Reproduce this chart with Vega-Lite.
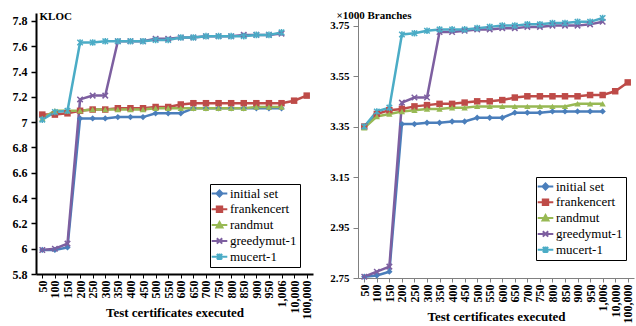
{
  "$schema": "https://vega.github.io/schema/vega-lite/v6.json",
  "padding": {"left": 12, "top": 9, "right": 2, "bottom": 0},
  "spacing": 16,
  "config": {
    "font": "Liberation Serif",
    "view": {"stroke": null},
    "axis": {"labelFont": "Liberation Serif", "labelFontWeight": "bold", "labelFontSize": 12, "labelColor": "black", "titleFont": "Liberation Serif", "titleFontWeight": "bold", "titleColor": "black", "grid": false, "tickColor": "black", "domainColor": "black"}
  },
  "resolve": {"scale": {"color": "independent"}, "legend": {"color": "independent"}},
  "datasets": {
    "kloc": [
      {"s": "initial set", "t": "50", "v": 5.99}, {"s": "initial set", "t": "100", "v": 5.99}, {"s": "initial set", "t": "150", "v": 6.01}, {"s": "initial set", "t": "200", "v": 7.03}, {"s": "initial set", "t": "250", "v": 7.03}, {"s": "initial set", "t": "300", "v": 7.03}, {"s": "initial set", "t": "350", "v": 7.04}, {"s": "initial set", "t": "400", "v": 7.04}, {"s": "initial set", "t": "450", "v": 7.04}, {"s": "initial set", "t": "500", "v": 7.07}, {"s": "initial set", "t": "550", "v": 7.07}, {"s": "initial set", "t": "600", "v": 7.07}, {"s": "initial set", "t": "650", "v": 7.11}, {"s": "initial set", "t": "700", "v": 7.11}, {"s": "initial set", "t": "750", "v": 7.11}, {"s": "initial set", "t": "800", "v": 7.11}, {"s": "initial set", "t": "850", "v": 7.11}, {"s": "initial set", "t": "900", "v": 7.11}, {"s": "initial set", "t": "950", "v": 7.11}, {"s": "initial set", "t": "1,006", "v": 7.11},
      {"s": "frankencert", "t": "50", "v": 7.06}, {"s": "frankencert", "t": "100", "v": 7.06}, {"s": "frankencert", "t": "150", "v": 7.07}, {"s": "frankencert", "t": "200", "v": 7.09}, {"s": "frankencert", "t": "250", "v": 7.10}, {"s": "frankencert", "t": "300", "v": 7.10}, {"s": "frankencert", "t": "350", "v": 7.11}, {"s": "frankencert", "t": "400", "v": 7.11}, {"s": "frankencert", "t": "450", "v": 7.11}, {"s": "frankencert", "t": "500", "v": 7.12}, {"s": "frankencert", "t": "550", "v": 7.12}, {"s": "frankencert", "t": "600", "v": 7.14}, {"s": "frankencert", "t": "650", "v": 7.15}, {"s": "frankencert", "t": "700", "v": 7.15}, {"s": "frankencert", "t": "750", "v": 7.15}, {"s": "frankencert", "t": "800", "v": 7.15}, {"s": "frankencert", "t": "850", "v": 7.15}, {"s": "frankencert", "t": "900", "v": 7.15}, {"s": "frankencert", "t": "950", "v": 7.15}, {"s": "frankencert", "t": "1,006", "v": 7.15}, {"s": "frankencert", "t": "10,000", "v": 7.17}, {"s": "frankencert", "t": "100,000", "v": 7.21},
      {"s": "randmut", "t": "50", "v": 7.03}, {"s": "randmut", "t": "100", "v": 7.09}, {"s": "randmut", "t": "150", "v": 7.09}, {"s": "randmut", "t": "200", "v": 7.09}, {"s": "randmut", "t": "250", "v": 7.10}, {"s": "randmut", "t": "300", "v": 7.10}, {"s": "randmut", "t": "350", "v": 7.10}, {"s": "randmut", "t": "400", "v": 7.10}, {"s": "randmut", "t": "450", "v": 7.10}, {"s": "randmut", "t": "500", "v": 7.11}, {"s": "randmut", "t": "550", "v": 7.11}, {"s": "randmut", "t": "600", "v": 7.11}, {"s": "randmut", "t": "650", "v": 7.11}, {"s": "randmut", "t": "700", "v": 7.11}, {"s": "randmut", "t": "750", "v": 7.11}, {"s": "randmut", "t": "800", "v": 7.11}, {"s": "randmut", "t": "850", "v": 7.11}, {"s": "randmut", "t": "900", "v": 7.12}, {"s": "randmut", "t": "950", "v": 7.12}, {"s": "randmut", "t": "1,006", "v": 7.12},
      {"s": "greedymut-1", "t": "50", "v": 5.99}, {"s": "greedymut-1", "t": "100", "v": 6.00}, {"s": "greedymut-1", "t": "150", "v": 6.04}, {"s": "greedymut-1", "t": "200", "v": 7.18}, {"s": "greedymut-1", "t": "250", "v": 7.21}, {"s": "greedymut-1", "t": "300", "v": 7.21}, {"s": "greedymut-1", "t": "350", "v": 7.64}, {"s": "greedymut-1", "t": "400", "v": 7.64}, {"s": "greedymut-1", "t": "450", "v": 7.64}, {"s": "greedymut-1", "t": "500", "v": 7.66}, {"s": "greedymut-1", "t": "550", "v": 7.66}, {"s": "greedymut-1", "t": "600", "v": 7.67}, {"s": "greedymut-1", "t": "650", "v": 7.67}, {"s": "greedymut-1", "t": "700", "v": 7.68}, {"s": "greedymut-1", "t": "750", "v": 7.68}, {"s": "greedymut-1", "t": "800", "v": 7.68}, {"s": "greedymut-1", "t": "850", "v": 7.69}, {"s": "greedymut-1", "t": "900", "v": 7.69}, {"s": "greedymut-1", "t": "950", "v": 7.69}, {"s": "greedymut-1", "t": "1,006", "v": 7.70},
      {"s": "mucert-1", "t": "50", "v": 7.02}, {"s": "mucert-1", "t": "100", "v": 7.08}, {"s": "mucert-1", "t": "150", "v": 7.09}, {"s": "mucert-1", "t": "200", "v": 7.63}, {"s": "mucert-1", "t": "250", "v": 7.63}, {"s": "mucert-1", "t": "300", "v": 7.64}, {"s": "mucert-1", "t": "350", "v": 7.64}, {"s": "mucert-1", "t": "400", "v": 7.64}, {"s": "mucert-1", "t": "450", "v": 7.64}, {"s": "mucert-1", "t": "500", "v": 7.65}, {"s": "mucert-1", "t": "550", "v": 7.65}, {"s": "mucert-1", "t": "600", "v": 7.67}, {"s": "mucert-1", "t": "650", "v": 7.67}, {"s": "mucert-1", "t": "700", "v": 7.68}, {"s": "mucert-1", "t": "750", "v": 7.68}, {"s": "mucert-1", "t": "800", "v": 7.68}, {"s": "mucert-1", "t": "850", "v": 7.68}, {"s": "mucert-1", "t": "900", "v": 7.69}, {"s": "mucert-1", "t": "950", "v": 7.69}, {"s": "mucert-1", "t": "1,006", "v": 7.71}
    ],
    "branches": [
      {"s": "initial set", "t": "50", "v": 2.755}, {"s": "initial set", "t": "100", "v": 2.76}, {"s": "initial set", "t": "150", "v": 2.775}, {"s": "initial set", "t": "200", "v": 3.36}, {"s": "initial set", "t": "250", "v": 3.36}, {"s": "initial set", "t": "300", "v": 3.365}, {"s": "initial set", "t": "350", "v": 3.365}, {"s": "initial set", "t": "400", "v": 3.37}, {"s": "initial set", "t": "450", "v": 3.37}, {"s": "initial set", "t": "500", "v": 3.385}, {"s": "initial set", "t": "550", "v": 3.385}, {"s": "initial set", "t": "600", "v": 3.385}, {"s": "initial set", "t": "650", "v": 3.405}, {"s": "initial set", "t": "700", "v": 3.405}, {"s": "initial set", "t": "750", "v": 3.405}, {"s": "initial set", "t": "800", "v": 3.41}, {"s": "initial set", "t": "850", "v": 3.41}, {"s": "initial set", "t": "900", "v": 3.41}, {"s": "initial set", "t": "950", "v": 3.41}, {"s": "initial set", "t": "1,006", "v": 3.41},
      {"s": "frankencert", "t": "50", "v": 3.35}, {"s": "frankencert", "t": "100", "v": 3.40}, {"s": "frankencert", "t": "150", "v": 3.415}, {"s": "frankencert", "t": "200", "v": 3.42}, {"s": "frankencert", "t": "250", "v": 3.43}, {"s": "frankencert", "t": "300", "v": 3.435}, {"s": "frankencert", "t": "350", "v": 3.44}, {"s": "frankencert", "t": "400", "v": 3.44}, {"s": "frankencert", "t": "450", "v": 3.445}, {"s": "frankencert", "t": "500", "v": 3.45}, {"s": "frankencert", "t": "550", "v": 3.45}, {"s": "frankencert", "t": "600", "v": 3.455}, {"s": "frankencert", "t": "650", "v": 3.465}, {"s": "frankencert", "t": "700", "v": 3.47}, {"s": "frankencert", "t": "750", "v": 3.47}, {"s": "frankencert", "t": "800", "v": 3.47}, {"s": "frankencert", "t": "850", "v": 3.47}, {"s": "frankencert", "t": "900", "v": 3.47}, {"s": "frankencert", "t": "950", "v": 3.475}, {"s": "frankencert", "t": "1,006", "v": 3.475}, {"s": "frankencert", "t": "10,000", "v": 3.49}, {"s": "frankencert", "t": "100,000", "v": 3.525},
      {"s": "randmut", "t": "50", "v": 3.345}, {"s": "randmut", "t": "100", "v": 3.39}, {"s": "randmut", "t": "150", "v": 3.40}, {"s": "randmut", "t": "200", "v": 3.41}, {"s": "randmut", "t": "250", "v": 3.415}, {"s": "randmut", "t": "300", "v": 3.42}, {"s": "randmut", "t": "350", "v": 3.42}, {"s": "randmut", "t": "400", "v": 3.425}, {"s": "randmut", "t": "450", "v": 3.425}, {"s": "randmut", "t": "500", "v": 3.43}, {"s": "randmut", "t": "550", "v": 3.43}, {"s": "randmut", "t": "600", "v": 3.43}, {"s": "randmut", "t": "650", "v": 3.43}, {"s": "randmut", "t": "700", "v": 3.43}, {"s": "randmut", "t": "750", "v": 3.43}, {"s": "randmut", "t": "800", "v": 3.43}, {"s": "randmut", "t": "850", "v": 3.43}, {"s": "randmut", "t": "900", "v": 3.44}, {"s": "randmut", "t": "950", "v": 3.44}, {"s": "randmut", "t": "1,006", "v": 3.44},
      {"s": "greedymut-1", "t": "50", "v": 2.755}, {"s": "greedymut-1", "t": "100", "v": 2.775}, {"s": "greedymut-1", "t": "150", "v": 2.795}, {"s": "greedymut-1", "t": "200", "v": 3.445}, {"s": "greedymut-1", "t": "250", "v": 3.465}, {"s": "greedymut-1", "t": "300", "v": 3.465}, {"s": "greedymut-1", "t": "350", "v": 3.725}, {"s": "greedymut-1", "t": "400", "v": 3.725}, {"s": "greedymut-1", "t": "450", "v": 3.73}, {"s": "greedymut-1", "t": "500", "v": 3.735}, {"s": "greedymut-1", "t": "550", "v": 3.735}, {"s": "greedymut-1", "t": "600", "v": 3.74}, {"s": "greedymut-1", "t": "650", "v": 3.74}, {"s": "greedymut-1", "t": "700", "v": 3.745}, {"s": "greedymut-1", "t": "750", "v": 3.745}, {"s": "greedymut-1", "t": "800", "v": 3.75}, {"s": "greedymut-1", "t": "850", "v": 3.75}, {"s": "greedymut-1", "t": "900", "v": 3.75}, {"s": "greedymut-1", "t": "950", "v": 3.755}, {"s": "greedymut-1", "t": "1,006", "v": 3.765},
      {"s": "mucert-1", "t": "50", "v": 3.35}, {"s": "mucert-1", "t": "100", "v": 3.41}, {"s": "mucert-1", "t": "150", "v": 3.425}, {"s": "mucert-1", "t": "200", "v": 3.715}, {"s": "mucert-1", "t": "250", "v": 3.72}, {"s": "mucert-1", "t": "300", "v": 3.73}, {"s": "mucert-1", "t": "350", "v": 3.735}, {"s": "mucert-1", "t": "400", "v": 3.735}, {"s": "mucert-1", "t": "450", "v": 3.735}, {"s": "mucert-1", "t": "500", "v": 3.74}, {"s": "mucert-1", "t": "550", "v": 3.745}, {"s": "mucert-1", "t": "600", "v": 3.75}, {"s": "mucert-1", "t": "650", "v": 3.75}, {"s": "mucert-1", "t": "700", "v": 3.755}, {"s": "mucert-1", "t": "750", "v": 3.755}, {"s": "mucert-1", "t": "800", "v": 3.76}, {"s": "mucert-1", "t": "850", "v": 3.76}, {"s": "mucert-1", "t": "900", "v": 3.765}, {"s": "mucert-1", "t": "950", "v": 3.765}, {"s": "mucert-1", "t": "1,006", "v": 3.78}
    ]
  },
  "hconcat": [
    {
      "width": 277,
      "height": 261,
      "data": {"name": "kloc"},
      "encoding": {
        "x": {"field": "t", "type": "ordinal", "sort": ["50","100","150","200","250","300","350","400","450","500","550","600","650","700","750","800","850","900","950","1,006","10,000","100,000"], "scale": {"type": "point", "padding": 0.5}, "axis": {"title": "Test certificates executed", "labelAngle": -90, "labelFontSize": 12, "tickSize": 4, "labelPadding": 2, "domainWidth": 2, "titleFontSize": 13, "titleY": 38, "titleBaseline": "middle"}},
        "y": {"field": "v", "type": "quantitative", "scale": {"domain": [5.8, 7.863], "nice": false, "zero": false}, "axis": {"title": "KLOC", "titleAngle": 0, "titleAlign": "left", "titleX": 3, "titleY": 3, "titleBaseline": "middle", "titleFontSize": 11, "values": [5.8,6,6.2,6.4,6.6,6.8,7,7.2,7.4,7.6,7.8], "labelExpr": "'' + datum.value", "tickSize": 5, "labelPadding": 4, "domainWidth": 2, "tickWidth": 1.5}}
      },
      "layer": [
        {"mark": {"type": "line", "strokeWidth": 2.5},
         "encoding": {"color": {"field": "s", "type": "nominal", "scale": {"domain": ["initial set","frankencert","randmut","greedymut-1","mucert-1"], "range": ["#4A7EBB","#BE4B48","#98B954","#7D5FA0","#4BACC6"]},
          "legend": {"title": null, "orient": "none", "legendX": 174, "legendY": 171, "strokeColor": "black", "fillColor": "white", "padding": 3, "labelFont": "Liberation Serif", "labelFontSize": 13, "labelColor": "black", "rowPadding": 0.8, "symbolSize": 256, "labelOffset": 4,
            "encode": {"symbols": {"update": {
              "shape": {"signal": "datum.value==='initial set' ? 'M-2.6,0L2.6,0M0,-1L1,0L0,1L-1,0Z' : datum.value==='frankencert' ? 'M-2.6,0L2.6,0M-0.9,-0.9L0.9,-0.9L0.9,0.9L-0.9,0.9Z' : datum.value==='randmut' ? 'M-2.6,0L2.6,0M0,-1L1,0.8L-1,0.8Z' : datum.value==='greedymut-1' ? 'M-2.6,0L2.6,0M-0.9,-0.9L0.9,0.9M-0.9,0.9L0.9,-0.9' : 'M-2.6,0L2.6,0M-0.9,-0.9L0.9,0.9M-0.9,0.9L0.9,-0.9M0,-1.1L0,1.1'"},
              "fill": {"signal": "datum.value==='initial set' ? '#4A7EBB' : datum.value==='frankencert' ? '#BE4B48' : datum.value==='randmut' ? '#98B954' : datum.value==='greedymut-1' ? '#7D5FA0' : '#4BACC6'"},
              "stroke": {"signal": "datum.value==='initial set' ? '#4A7EBB' : datum.value==='frankencert' ? '#BE4B48' : datum.value==='randmut' ? '#98B954' : datum.value==='greedymut-1' ? '#7D5FA0' : '#4BACC6'"},
              "strokeWidth": {"value": 2}, "size": {"value": 36}, "opacity": {"value": 1}}}}}}}},
        {"transform": [{"filter": "datum.s === 'initial set'"}], "mark": {"type": "point", "shape": "diamond", "filled": true, "size": 40, "color": "#4A7EBB", "opacity": 1}},
        {"transform": [{"filter": "datum.s === 'frankencert'"}], "mark": {"type": "point", "shape": "square", "filled": true, "size": 42, "color": "#BE4B48", "opacity": 1}},
        {"transform": [{"filter": "datum.s === 'randmut'"}], "mark": {"type": "point", "shape": "triangle-up", "filled": true, "size": 40, "color": "#98B954", "opacity": 1}},
        {"transform": [{"filter": "datum.s === 'greedymut-1'"}], "mark": {"type": "point", "shape": "M-1,-1L1,1M-1,1L1,-1", "filled": false, "size": 30, "strokeWidth": 1.5, "color": "#7D5FA0", "opacity": 1}},
        {"transform": [{"filter": "datum.s === 'mucert-1'"}], "mark": {"type": "point", "shape": "M-1,-1L1,1M-1,1L1,-1M0,-1.2L0,1.2", "filled": false, "size": 30, "strokeWidth": 1.5, "color": "#4BACC6", "opacity": 1}}
      ]
    },
    {
      "width": 276,
      "height": 265,
      "data": {"name": "branches"},
      "encoding": {
        "x": {"field": "t", "type": "ordinal", "sort": ["50","100","150","200","250","300","350","400","450","500","550","600","650","700","750","800","850","900","950","1,006","10,000","100,000"], "scale": {"type": "point", "padding": 0.5}, "axis": {"title": "Test certificates executed", "labelAngle": -90, "labelFontSize": 12, "tickSize": 4, "labelPadding": 2, "domainColor": "#808080", "tickColor": "#808080", "titleFontSize": 13, "titleY": 38, "titleBaseline": "middle"}},
        "y": {"field": "v", "type": "quantitative", "scale": {"domain": [2.75, 3.8], "nice": false, "zero": false}, "axis": {"title": "×1000 Branches", "titleAngle": 0, "titleAlign": "left", "titleX": -22, "titleY": 2, "titleBaseline": "middle", "titleFontSize": 11, "values": [2.75,2.95,3.15,3.35,3.55,3.75], "format": ".2f", "labelFontSize": 11, "tickSize": 5, "labelPadding": 4, "domainColor": "#808080", "tickColor": "#808080"}}
      },
      "layer": [
        {"mark": {"type": "line", "strokeWidth": 2.5},
         "encoding": {"color": {"field": "s", "type": "nominal", "scale": {"domain": ["initial set","frankencert","randmut","greedymut-1","mucert-1"], "range": ["#4A7EBB","#BE4B48","#98B954","#7D5FA0","#4BACC6"]},
          "legend": {"title": null, "orient": "none", "legendX": 178, "legendY": 164, "strokeColor": "black", "fillColor": "white", "padding": 3, "labelFont": "Liberation Serif", "labelFontSize": 13, "labelColor": "black", "rowPadding": 0.8, "symbolSize": 256, "labelOffset": 4,
            "encode": {"symbols": {"update": {
              "shape": {"signal": "datum.value==='initial set' ? 'M-2.6,0L2.6,0M0,-1L1,0L0,1L-1,0Z' : datum.value==='frankencert' ? 'M-2.6,0L2.6,0M-0.9,-0.9L0.9,-0.9L0.9,0.9L-0.9,0.9Z' : datum.value==='randmut' ? 'M-2.6,0L2.6,0M0,-1L1,0.8L-1,0.8Z' : datum.value==='greedymut-1' ? 'M-2.6,0L2.6,0M-0.9,-0.9L0.9,0.9M-0.9,0.9L0.9,-0.9' : 'M-2.6,0L2.6,0M-0.9,-0.9L0.9,0.9M-0.9,0.9L0.9,-0.9M0,-1.1L0,1.1'"},
              "fill": {"signal": "datum.value==='initial set' ? '#4A7EBB' : datum.value==='frankencert' ? '#BE4B48' : datum.value==='randmut' ? '#98B954' : datum.value==='greedymut-1' ? '#7D5FA0' : '#4BACC6'"},
              "stroke": {"signal": "datum.value==='initial set' ? '#4A7EBB' : datum.value==='frankencert' ? '#BE4B48' : datum.value==='randmut' ? '#98B954' : datum.value==='greedymut-1' ? '#7D5FA0' : '#4BACC6'"},
              "strokeWidth": {"value": 2}, "size": {"value": 36}, "opacity": {"value": 1}}}}}}}},
        {"transform": [{"filter": "datum.s === 'initial set'"}], "mark": {"type": "point", "shape": "diamond", "filled": true, "size": 40, "color": "#4A7EBB", "opacity": 1}},
        {"transform": [{"filter": "datum.s === 'frankencert'"}], "mark": {"type": "point", "shape": "square", "filled": true, "size": 42, "color": "#BE4B48", "opacity": 1}},
        {"transform": [{"filter": "datum.s === 'randmut'"}], "mark": {"type": "point", "shape": "triangle-up", "filled": true, "size": 40, "color": "#98B954", "opacity": 1}},
        {"transform": [{"filter": "datum.s === 'greedymut-1'"}], "mark": {"type": "point", "shape": "M-1,-1L1,1M-1,1L1,-1", "filled": false, "size": 30, "strokeWidth": 1.5, "color": "#7D5FA0", "opacity": 1}},
        {"transform": [{"filter": "datum.s === 'mucert-1'"}], "mark": {"type": "point", "shape": "M-1,-1L1,1M-1,1L1,-1M0,-1.2L0,1.2", "filled": false, "size": 30, "strokeWidth": 1.5, "color": "#4BACC6", "opacity": 1}}
      ]
    }
  ]
}
